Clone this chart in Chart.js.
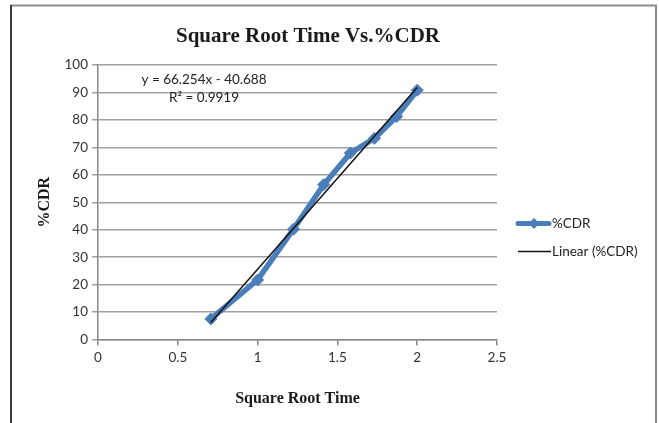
<!DOCTYPE html>
<html>
<head>
<meta charset="utf-8">
<script src="https://cdn.jsdelivr.net/npm/chart.js@4/dist/chart.umd.min.js"></script>
<style>
  html, body { margin: 0; padding: 0; background: #fff; }
  #wrap { width: 659px; height: 423px; position: relative; }
</style>
</head>
<body>
<div id="wrap"><canvas id="chartCdr" width="659" height="423"></canvas></div>
<script>
// square root of time and cumulative drug release (%)
const sqrtTime = [0.707, 1.0, 1.225, 1.414, 1.581, 1.732, 1.871, 2.0];
const cdr = [7.5, 21.7, 40.2, 56.4, 67.9, 73.3, 81.2, 90.8];

// linear fit shown on the chart
const slope = 66.254;
const intercept = -40.688;
const rSquared = 0.9919;

const yTicks = [0, 10, 20, 30, 40, 50, 60, 70, 80, 90, 100];
const xTicks = [0, 0.5, 1, 1.5, 2, 2.5];

const blue = '#4a7ebb';
const tickFont = { family: 'Lato', size: 13.5 };

const trendX = [sqrtTime[0], sqrtTime[sqrtTime.length - 1]];
const trendPoints = trendX.map(x => ({ x: x, y: slope * x + intercept }));

// frame, title, equation and legend drawn straight onto the canvas
const decorations = {
    id: 'decorations',
    beforeDraw(chart) {
        const c = chart.ctx;
        c.save();
        c.fillStyle = '#fff';
        c.fillRect(0, 0, chart.width, chart.height);
        c.restore();
    },
    afterDraw(chart) {
        const c = chart.ctx;
        c.save();

        // frame (open at the bottom)
        c.lineWidth = 2;
        c.strokeStyle = '#8c8c8c';
        c.beginPath();
        c.moveTo(11, 423);
        c.lineTo(11, 5.5);
        c.lineTo(656, 5.5);
        c.lineTo(656, 423);
        c.stroke();
        c.strokeStyle = '#3c3c3c';
        c.beginPath();
        c.moveTo(11, 423);
        c.lineTo(11, 5);
        c.stroke();

        // title
        c.fillStyle = '#1a1a1a';
        c.font = 'bold 21px "Liberation Serif"';
        c.textAlign = 'center';
        c.textBaseline = 'middle';
        c.fillText('Square Root Time Vs.%CDR', 308, 37);

        // trendline equation
        c.fillStyle = '#222';
        c.font = '13.5px Lato';
        const sign = intercept < 0 ? ' - ' : ' + ';
        c.fillText('y = ' + slope.toFixed(3) + 'x' + sign + Math.abs(intercept).toFixed(3), 204, 80);
        c.fillText('R\u00b2 = ' + rSquared, 204, 98);

        // legend
        c.textAlign = 'left';
        c.strokeStyle = blue;
        c.lineWidth = 5;
        c.lineCap = 'round';
        c.beginPath();
        c.moveTo(518, 223.5);
        c.lineTo(549, 223.5);
        c.stroke();
        c.fillStyle = blue;
        c.beginPath();
        c.moveTo(534, 218);
        c.lineTo(539.5, 223.5);
        c.lineTo(534, 229);
        c.lineTo(528.5, 223.5);
        c.closePath();
        c.fill();
        c.lineCap = 'butt';
        c.strokeStyle = '#111';
        c.lineWidth = 1.5;
        c.beginPath();
        c.moveTo(518, 251.5);
        c.lineTo(551, 251.5);
        c.stroke();
        c.fillStyle = '#222';
        c.fillText('%CDR', 552, 224);
        c.fillText('Linear (%CDR)', 552, 252);

        c.restore();
    }
};

const chart = new Chart(document.getElementById('chartCdr').getContext('2d'), {
    type: 'scatter',
    data: {
        datasets: [{
            label: '%CDR',
            data: sqrtTime.map((x, i) => ({ x: x, y: cdr[i] })),
            showLine: true,
            borderColor: blue,
            backgroundColor: blue,
            borderWidth: 5.5,
            pointStyle: 'rectRot',
            pointRadius: 6,
            pointBorderWidth: 1,
            order: 2
        }, {
            label: 'Linear (%CDR)',
            data: trendPoints,
            showLine: true,
            borderColor: '#111',
            borderWidth: 1.5,
            pointRadius: 0,
            order: 1
        }]
    },
    options: {
        responsive: false,
        animation: false,
        layout: { padding: { top: 65, right: 162, bottom: 0, left: 0 } },
        plugins: {
            legend: { display: false },
            title: { display: false },
            tooltip: { enabled: false }
        },
        scales: {
            x: {
                type: 'linear',
                min: 0,
                max: 2.5,
                afterFit: scale => { scale.height = 83.5; },
                afterBuildTicks: scale => { scale.ticks = xTicks.map(v => ({ value: v })); },
                ticks: { color: '#333', font: tickFont, padding: 4, callback: v => String(v) },
                grid: { drawOnChartArea: false, drawTicks: true, tickLength: 6, color: '#888', lineWidth: 1.5 },
                border: { color: '#888', width: 1.5 },
                title: {
                    display: true,
                    text: 'Square Root Time',
                    color: '#1a1a1a',
                    font: { family: 'Liberation Serif', size: 16, weight: 'bold' },
                    padding: { top: 0, bottom: 15 }
                }
            },
            y: {
                min: 0,
                max: 100,
                afterFit: scale => { scale.width = 98; },
                afterBuildTicks: scale => { scale.ticks = yTicks.map(v => ({ value: v })); },
                ticks: { color: '#333', font: tickFont, padding: 4, callback: v => String(v) },
                grid: { color: '#a0a0a0', lineWidth: 1.5, tickLength: 6 },
                border: { color: '#888', width: 1.5 },
                title: {
                    display: true,
                    text: '%CDR',
                    color: '#1a1a1a',
                    font: { family: 'Liberation Serif', size: 16, weight: 'bold' },
                    padding: { top: 35, bottom: 0 }
                }
            }
        }
    },
    plugins: [decorations]
});
</script>
</body>
</html>
